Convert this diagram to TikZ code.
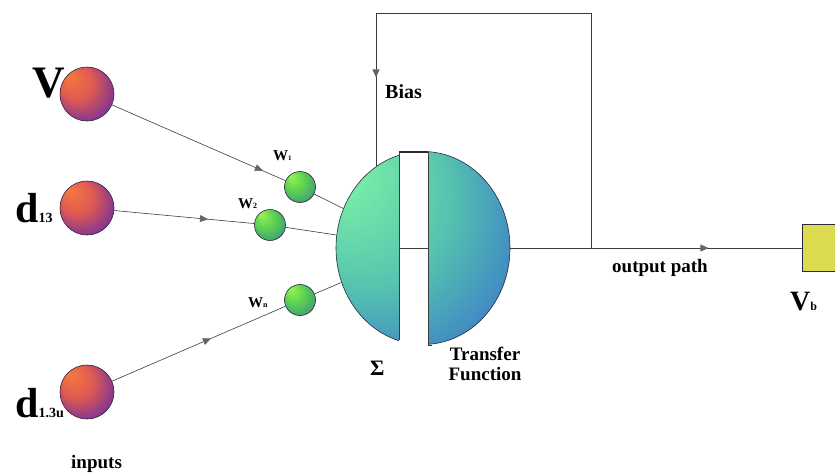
\documentclass[tikz,border=0pt]{standalone}
\usepackage{fontspec}
\setmainfont{Liberation Serif}
\usetikzlibrary{positioning,arrows.meta,shapes.geometric,decorations.markings}
\definecolor{dLine}{RGB}{60,60,60}
\definecolor{dEdge}{RGB}{45,40,60}
\definecolor{tipGrey}{RGB}{100,100,105}
\definecolor{inLight}{RGB}{248,122,60}
\definecolor{inMid}{RGB}{222,90,82}
\definecolor{inDark}{RGB}{80,32,180}
\definecolor{wLight}{RGB}{150,245,85}
\definecolor{wMid}{RGB}{95,210,80}
\definecolor{wDark}{RGB}{40,125,145}
\definecolor{nLight}{RGB}{135,255,165}
\definecolor{nMid}{RGB}{85,195,175}
\definecolor{nDark}{RGB}{40,70,220}
\definecolor{dYellow}{RGB}{220,220,80}
\pgfdeclareradialshading{inball}{\pgfpoint{-18bp}{18bp}}%
  {color(0bp)=(inLight); color(16bp)=(inMid); color(38bp)=(inDark)}
\pgfdeclareradialshading{wball}{\pgfpoint{-15bp}{18bp}}%
  {color(0bp)=(wLight); color(16bp)=(wMid); color(42bp)=(wDark)}
\pgfdeclareradialshading{nball}{\pgfpoint{-30bp}{25bp}}%
  {color(0bp)=(nLight); color(24bp)=(nMid); color(52bp)=(nDark)}
\tikzset{
  wire/.style={draw=dLine, line width=0.6pt},
  midarrow/.style={postaction={decorate}, decoration={markings,
      mark=at position #1 with {\arrow{Triangle[length=8pt,width=7pt,fill=tipGrey,color=tipGrey]}}}},
  input/.style={circle, draw=dEdge, line width=0.6pt, shade, shading=inball,
                minimum size=54pt, inner sep=0pt},
  weight/.style={circle, draw=dEdge, line width=0.6pt, shade, shading=wball,
                 minimum size=31pt, inner sep=0pt},
  neuron/.style={ellipse, draw=dEdge, line width=0.6pt, shade, shading=nball,
                 minimum width=174pt, minimum height=193pt, inner sep=0pt},
  outbox/.style={rectangle, draw=dEdge, line width=0.6pt, fill=dYellow,
                 minimum width=50pt, minimum height=47pt},
  lbl/.style={inner sep=0pt, anchor=base west, font=\bfseries\fontsize{19}{20}\selectfont},
  biglbl/.style={lbl, font=\bfseries\fontsize{#1}{#1}\selectfont},
}
\newcommand{\sub}[2]{{\fontsize{#1}{#1}\selectfont #2}}

\begin{document}
\begin{tikzpicture}[x=1pt,y=-1pt]
  \useasboundingbox (0,0) rectangle (835,472);

  % --- inputs ---
  \node[input] (vin) at (87,94) {};
  \node[input] (din) at (87,208) {};
  \node[input] (uin) at (87,392) {};

  % --- weights ---
  \node[weight] (w1) at (300,187) {};
  \node[weight] (w2) at (270,225) {};
  \node[weight] (wn) at (300,300) {};

  % --- summing / transfer unit ---
  \node[neuron] (sum) at (423,248) {};
  \fill[white] (399,149) rectangle (428,350);
  \draw[wire] (399,152) -- (399,340);
  \draw[wire] (428,152) -- (428,345) -- (432,345);
  \draw[dEdge, line width=1.6pt] (399,152) -- (428,152);
  \coordinate (stripL) at (399,248);
  \coordinate (stripR) at (428,248);
  \draw[wire] (stripL) -- (stripR);

  % --- output ---
  \node[outbox] (vb) at (827,248) {};
  \coordinate (tap) at (591,248);
  \coordinate (biasTop) at (376,13);

  % --- connectors ---
  \draw[wire, midarrow=0.87] (vin) -- (w1);
  \draw[wire, midarrow=0.67] (din) -- (w2);
  \draw[wire, midarrow=0.57] (uin) -- (wn);
  \draw[wire] (w1) -- (sum);
  \draw[wire] (w2) -- (sum);
  \draw[wire] (wn) -- (sum);
  \draw[wire, midarrow=0.68] (sum.east) -- (vb.west);
  \draw[wire] (tap) |- (biasTop);
  \draw[wire, midarrow=0.42] (biasTop) -- (biasTop |- sum.120);

  % --- labels ---
  \node[biglbl=45] (vlbl) at (32,97) {V};
  \node[biglbl=42] (dlbl) at (15,222) {d\sub{14}{13}};
  \node[biglbl=42] (ulbl) at (15,417) {d\sub{14}{1.3u}};
  \node[lbl] (inlbl) at (71,468) {inputs};
  \node[biglbl=15] (w1lbl) at (273,160) {W\sub{7}{1}};
  \node[biglbl=15] (w2lbl) at (238,208) {W\sub{8}{2}};
  \node[biglbl=15] (wnlbl) at (248,307) {W\sub{8}{n}};
  \node[biglbl=20] (biaslbl) at (385,98) {Bias};
  \node[lbl] (outlbl) at (612,272) {output path};
  \node[biglbl=28] (vblbl) at (790,310) {V\sub{12}{b}};
  \node[biglbl=22] (sigma) at (370,375) {Σ};
  \node[lbl, anchor=north, align=center] (tflbl) at (485,347) {Transfer\\Function};
\end{tikzpicture}
\end{document}
